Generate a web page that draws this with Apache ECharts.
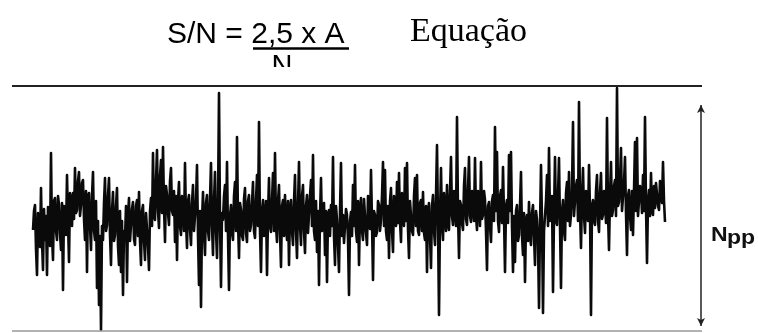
<!DOCTYPE html>
<html>
<head>
<meta charset="utf-8">
<script src="https://cdn.jsdelivr.net/npm/echarts@6/dist/echarts.min.js"></script>
<style>
	html, body { margin: 0; padding: 0; background: #fff; }
	#chart { width: 758px; height: 333px; }
</style>
</head>
<body>
<div id="chart"></div>
<script>
// noise trace, one sample per px, amplitude in arbitrary units (0 = lower baseline)
var noiseValues = [
	101,120,126,82,56,118,111,84,143,90,61,122,91,115,56,124,116,85,178,95,
	71,130,133,100,91,135,126,98,81,128,41,125,116,96,156,110,69,138,131,105,
	138,112,163,118,121,150,159,115,126,148,151,112,91,140,59,135,138,105,81,135,
	159,100,91,130,43,110,26,95,1,105,91,128,153,100,106,135,153,96,66,120,
	139,90,96,125,143,85,66,120,59,110,36,100,91,125,49,115,133,90,89,122,
	129,92,86,125,131,95,139,90,66,120,126,90,71,118,116,85,61,120,133,105,
	178,115,111,150,181,120,103,155,171,118,184,125,89,145,136,118,106,150,163,120,
	116,140,89,135,71,130,149,105,96,135,131,100,168,110,83,130,136,102,86,128,
	146,100,101,130,166,95,46,120,24,110,139,98,76,128,136,100,91,132,168,105,
	76,130,159,100,73,125,238,110,44,118,111,135,146,100,169,95,41,115,126,98,
	91,135,149,100,194,110,73,128,121,95,91,132,143,98,89,130,136,100,106,128,
	149,100,93,130,156,105,209,100,59,120,131,95,96,130,56,115,153,105,99,130,
	158,100,178,105,89,130,146,98,64,125,131,95,136,105,91,130,66,120,131,100,
	86,130,156,100,73,125,169,105,86,135,146,100,78,125,136,98,96,135,151,105,
	176,100,91,130,79,120,46,115,153,100,101,128,76,120,49,115,121,95,126,105,
	174,95,66,125,111,85,59,120,168,95,116,88,86,122,116,92,36,110,119,95,
	146,105,166,100,89,130,66,120,133,100,91,132,131,98,86,135,136,102,161,110,
	51,120,116,95,99,130,126,100,111,135,169,105,161,100,91,125,73,130,143,100,
	79,135,131,105,149,108,158,110,89,138,136,105,163,110,168,102,73,130,131,100,
	96,135,153,105,156,100,96,128,131,100,139,98,91,125,59,120,128,95,63,125,
	136,100,86,135,186,110,16,115,163,105,91,138,121,100,146,108,101,140,174,115,
	106,140,141,105,214,118,73,130,126,108,101,145,163,112,106,140,174,115,109,140,
	141,110,173,115,101,140,131,105,169,112,116,140,131,100,61,125,129,105,89,130,
	136,110,204,120,179,110,99,135,141,108,164,115,59,125,131,108,176,120,179,105,
	59,115,69,120,126,90,96,125,159,95,76,118,49,110,116,90,129,95,86,118,
	126,95,66,120,111,90,23,105,166,110,18,100,101,130,156,105,183,110,111,135,
	39,115,174,110,106,135,173,105,43,120,131,100,91,138,149,110,159,105,116,140,
	209,115,116,145,151,110,229,120,83,135,163,115,98,140,131,110,166,120,16,125,
	131,110,106,140,156,110,99,138,158,112,116,140,131,108,213,118,81,135,169,115,
	121,145,151,115,243,125,129,150,183,120,121,148,174,118,76,135,141,115,101,140,
	96,140,189,120,193,115,116,145,141,118,156,120,214,125,68,130,141,115,158,120,
	116,145,123,148,149,125,121,150,141,128,169,130,109
];

var upperLine = 245;   // top reference line
var lowerLine = 0;     // bottom reference line
var nppSample = 668;   // where the Npp bracket is drawn
var nppRange = [5, 226];

var chart = echarts.init(document.getElementById('chart'));

var seriesData = noiseValues.map(function(v, i) {
	return [i, v];
});

var option = {
	animation: false,
	backgroundColor: '#fff',
	grid: {
		left: 12,
		right: 56,
		top: 85,
		bottom: 2
	},
	xAxis: {
		type: 'value',
		min: -21,
		max: 669,
		show: false
	},
	yAxis: {
		type: 'value',
		min: 0,
		max: 246,
		show: false
	},
	series: [{
		type: 'line',
		data: seriesData,
		showSymbol: false,
		clip: false,
		lineStyle: {
			color: '#0a0a0a',
			width: 2.6,
			join: 'round'
		},
		markLine: {
			silent: true,
			symbol: 'none',
			label: { show: false },
			data: [
				{ yAxis: upperLine, lineStyle: { color: '#222', width: 2, type: 'solid' } },
				{ yAxis: lowerLine, lineStyle: { color: '#999', width: 1.5, type: 'solid' } },
				[
					{ coord: [nppSample, nppRange[0]], symbol: 'arrow', symbolSize: [6, 8] },
					{ coord: [nppSample, nppRange[1]], symbol: 'arrow', symbolSize: [6, 8], lineStyle: { color: '#222', width: 1.5, type: 'solid' } }
				]
			]
		}
	}],
	graphic: [
		{
			type: 'text',
			x: 167,
			y: 35,
			style: {
				text: 'S/N = 2,5 x A',
				font: '30px "Liberation Sans", Arial, sans-serif',
				fill: '#000',
				verticalAlign: 'middle'
			}
		},
		{
			type: 'line',
			shape: { x1: 253, y1: 48.5, x2: 349, y2: 48.5 },
			style: { stroke: '#000', lineWidth: 2.5 }
		},
		{
			type: 'text',
			x: 282,
			y: 67,
			style: {
				text: 'N',
				font: '29px "Liberation Sans", Arial, sans-serif',
				fill: '#000',
				align: 'center',
				verticalAlign: 'middle'
			}
		},
		{
			type: 'rect',
			shape: { x: 262, y: 67, width: 40, height: 16 },
			style: { fill: '#fff' }
		},
		{
			type: 'text',
			x: 410,
			y: 32,
			style: {
				text: 'Equação',
				font: '34px "Liberation Serif", "Times New Roman", serif',
				fill: '#000',
				verticalAlign: 'middle'
			}
		},
		{
			type: 'text',
			x: 711,
			y: 235,
			scaleX: 1.15,
			style: {
				text: 'N',
				font: 'bold 20px "Liberation Sans", Arial, sans-serif',
				fill: '#111',
				verticalAlign: 'middle'
			}
		},
		{
			type: 'text',
			x: 727,
			y: 238.5,
			scaleX: 1.15,
			style: {
				text: 'pp',
				font: 'bold 20px "Liberation Sans", Arial, sans-serif',
				fill: '#111',
				verticalAlign: 'middle'
			}
		}
	]
};

chart.setOption(option);
</script>
</body>
</html>
